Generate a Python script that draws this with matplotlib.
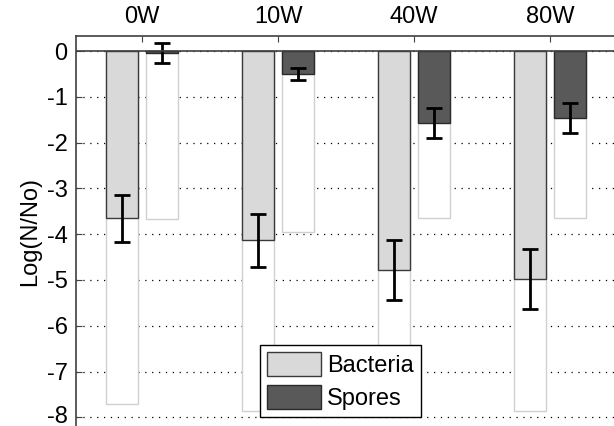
import matplotlib
matplotlib.use("Agg")
import matplotlib.pyplot as plt
import matplotlib.transforms as mtransforms
import numpy as np

plt.rcParams["font.family"] = ["Liberation Sans", "DejaVu Sans"]
plt.rcParams["axes.unicode_minus"] = False

# valores
labels = ["0W", "10W", "40W", "80W"]
bacteria = [-3.65, -4.13, -4.78, -4.98]
bacteria_err = [0.51, 0.58, 0.66, 0.66]
spores = [-0.05, -0.50, -1.57, -1.46]
spores_err = [0.22, 0.14, 0.33, 0.32]
# barras "fantasma" (contorno claro por tras)
bacteria_ref = [-7.70, -7.86, -7.86, -7.86]
spores_ref = [-3.67, -3.95, -3.64, -3.65]

x = np.arange(1, len(labels) + 1)
off = 0.147
w = 0.235

fig = plt.figure(figsize=(6.14, 4.26), dpi=100)
ax = fig.add_axes([76 / 614, 0.0, 538 / 614, 390 / 426])

ax.yaxis.grid(True, ls=(0, (1, 4.5)), color="black", lw=0.9)
ax.set_axisbelow(True)

ax.bar(x - off, bacteria_ref, w, color="white", edgecolor="#d0d0d0", lw=1, zorder=2)
ax.bar(x + off, spores_ref, w, color="white", edgecolor="#d0d0d0", lw=1, zorder=2)
ax.bar(x - off, bacteria, w, color="#d9d9d9", edgecolor="#3a3a3a", lw=1, zorder=3,
       label="Bacteria")
ax.bar(x + off, spores, w, color="#595959", edgecolor="#2a2a2a", lw=1, zorder=3,
       label="Spores")
ax.errorbar(x - off, bacteria, yerr=bacteria_err, fmt="none", ecolor="black",
            elinewidth=2, capsize=6, capthick=2, zorder=4)
ax.errorbar(x + off, spores, yerr=spores_err, fmt="none", ecolor="black",
            elinewidth=2, capsize=6, capthick=2, zorder=4)
ax.axhline(0, color="#404040", lw=1.2, zorder=5)

ax.set_xlim(0.515, 4.47)
ax.set_ylim(-8.19, 0.33)
ax.set_xticks(x)
ax.set_xticklabels(labels)
ax.set_yticks(np.arange(-8, 1))
ax.xaxis.tick_top()
ax.tick_params(axis="both", direction="in", labelsize=17, length=4, width=0.8,
               color="#404040", pad=6)
for s in ("top", "left"):
    ax.spines[s].set_color("#404040")
    ax.spines[s].set_linewidth(1.2)
ax.spines["bottom"].set_visible(False)
ax.spines["right"].set_visible(False)
ax.set_ylabel("Log(N/No)", fontsize=17, labelpad=4)

# o "-8" fica colado na borda de baixo; sobe um pouquinho
fig.canvas.draw()
lab8 = ax.get_yticklabels()[0]
lab8.set_transform(lab8.get_transform() + mtransforms.ScaledTranslation(0, 2 / 72, fig.dpi_scale_trans))

leg = ax.legend(loc="lower left", bbox_to_anchor=(260 / 614, 9 / 426),
                bbox_transform=fig.transFigure, fontsize=17, fancybox=False,
                framealpha=1, edgecolor="black", handlelength=2.3, handleheight=1.15,
                handletextpad=0.25, borderpad=0.3, labelspacing=0.35, borderaxespad=0)
leg.get_frame().set_linewidth(1)

fig.savefig("out.png", dpi=100)
